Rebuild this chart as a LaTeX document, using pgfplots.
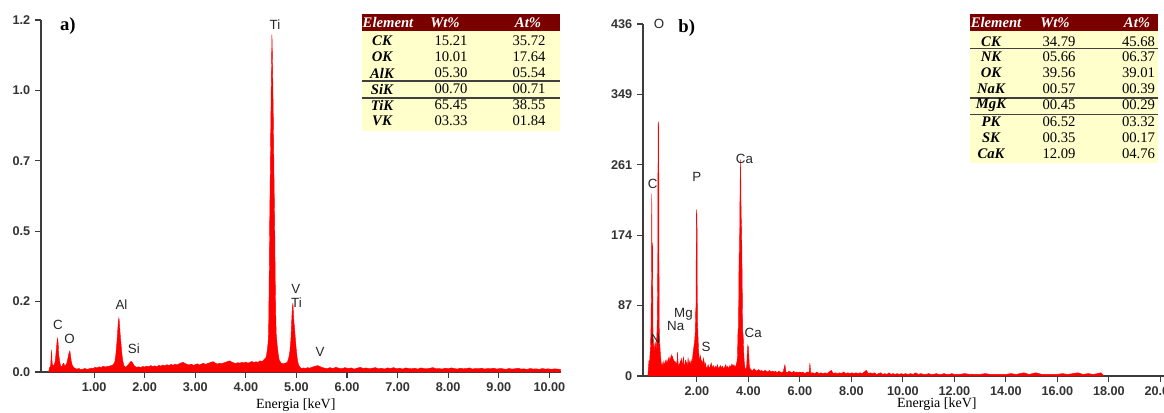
\documentclass[border=0pt]{standalone}
\usepackage{pgfplots}
\usepackage{pgfplotstable}
\pgfplotsset{compat=1.18}
\usepackage{fontspec}
\setmainfont{Liberation Serif}
\newfontfamily\arial{Liberation Sans}
\definecolor{hdr}{HTML}{7A0000}
\definecolor{cell}{HTML}{FFFFCC}
\definecolor{axgray}{HTML}{3C3C3C}

\pgfplotstableread{
x y
0.10 0
0.12 0.015
0.14 0.02
0.16 0.075
0.17 0.03
0.19 0.02
0.21 0.025
0.23 0.035
0.25 0.07
0.26 0.09
0.27 0.108
0.28 0.115
0.29 0.095
0.30 0.06
0.32 0.035
0.34 0.02
0.36 0.018
0.38 0.026
0.40 0.03
0.42 0.02
0.44 0.024
0.46 0.03
0.48 0.045
0.50 0.062
0.52 0.072
0.53 0.06
0.55 0.035
0.57 0.022
0.60 0.015
0.63 0.012
0.66 0.01
0.70 0.012
0.74 0.008
0.78 0.01
0.82 0.012
0.86 0.009
0.90 0.011
0.94 0.013
0.98 0.012
1.02 0.016
1.06 0.014
1.10 0.018
1.14 0.015
1.18 0.02
1.22 0.017
1.26 0.019
1.30 0.02
1.34 0.022
1.38 0.025
1.41 0.035
1.43 0.06
1.45 0.1
1.47 0.15
1.48 0.175
1.49 0.184
1.50 0.17
1.51 0.14
1.53 0.1
1.55 0.06
1.57 0.035
1.59 0.022
1.62 0.016
1.65 0.02
1.68 0.026
1.71 0.033
1.73 0.036
1.75 0.034
1.77 0.028
1.80 0.02
1.84 0.016
1.88 0.018
1.92 0.015
1.96 0.019
2.00 0.017
2.04 0.02
2.08 0.018
2.12 0.022
2.16 0.019
2.20 0.021
2.24 0.018
2.28 0.023
2.32 0.02
2.36 0.024
2.40 0.021
2.44 0.025
2.48 0.022
2.52 0.026
2.56 0.023
2.60 0.027
2.64 0.024
2.68 0.028
2.72 0.031
2.76 0.033
2.80 0.029
2.84 0.026
2.88 0.024
2.92 0.027
2.96 0.023
3.00 0.025
3.04 0.028
3.08 0.024
3.12 0.027
3.16 0.03
3.20 0.026
3.24 0.029
3.28 0.031
3.32 0.034
3.36 0.035
3.40 0.03
3.44 0.027
3.48 0.03
3.52 0.028
3.56 0.031
3.60 0.033
3.64 0.036
3.68 0.038
3.72 0.034
3.76 0.031
3.80 0.029
3.84 0.032
3.88 0.03
3.92 0.033
3.96 0.031
4.00 0.034
4.04 0.03
4.08 0.033
4.12 0.036
4.16 0.032
4.20 0.035
4.24 0.033
4.28 0.038
4.32 0.036
4.36 0.042
4.40 0.05
4.42 0.07
4.44 0.1
4.45 0.14
4.46 0.3
4.47 0.5
4.48 0.64
4.49 0.8
4.50 0.95
4.51 1.08
4.515 1.15
4.52 1.12
4.53 1.02
4.54 0.9
4.55 0.76
4.56 0.62
4.57 0.5
4.58 0.32
4.59 0.2
4.60 0.13
4.62 0.09
4.64 0.06
4.66 0.04
4.70 0.03
4.74 0.028
4.78 0.03
4.82 0.033
4.85 0.05
4.87 0.07
4.89 0.11
4.90 0.15
4.91 0.19
4.92 0.22
4.93 0.235
4.94 0.2
4.95 0.17
4.96 0.155
4.98 0.11
5.00 0.07
5.02 0.04
5.04 0.025
5.07 0.016
5.10 0.012
5.14 0.014
5.18 0.012
5.22 0.015
5.26 0.013
5.30 0.016
5.34 0.018
5.38 0.02
5.42 0.022
5.46 0.019
5.50 0.016
5.54 0.014
5.60 0.011
5.66 0.015
5.72 0.012
5.78 0.016
5.84 0.013
5.90 0.011
5.96 0.015
6.02 0.012
6.08 0.014
6.14 0.010
6.20 0.013
6.26 0.016
6.32 0.012
6.38 0.014
6.44 0.011
6.50 0.013
6.56 0.015
6.62 0.011
6.68 0.013
6.74 0.010
6.80 0.014
6.86 0.012
6.92 0.015
6.98 0.011
7.04 0.013
7.10 0.010
7.16 0.014
7.22 0.012
7.28 0.011
7.34 0.013
7.40 0.010
7.46 0.014
7.52 0.012
7.58 0.011
7.64 0.013
7.70 0.015
7.76 0.011
7.82 0.012
7.88 0.010
7.94 0.013
8.00 0.011
8.06 0.014
8.12 0.012
8.18 0.010
8.24 0.013
8.30 0.011
8.36 0.012
8.42 0.014
8.48 0.010
8.54 0.012
8.60 0.011
8.66 0.013
8.72 0.010
8.78 0.012
8.84 0.011
8.90 0.013
8.96 0.010
9.02 0.012
9.08 0.011
9.14 0.009
9.20 0.012
9.26 0.010
9.32 0.011
9.38 0.013
9.44 0.010
9.50 0.011
9.56 0.009
9.62 0.012
9.68 0.010
9.74 0.011
9.80 0.009
9.86 0.012
9.92 0.010
9.98 0.011
10.04 0.009
10.10 0.011
10.16 0.010
10.22 0.009
}\leftdata

\pgfplotstableread{
x y
0.10 0
0.12 10
0.14 18
0.16 14
0.18 25
0.20 35
0.22 60
0.24 120
0.25 226
0.26 150
0.27 120
0.28 165
0.29 100
0.30 50
0.32 40
0.34 30
0.36 36
0.38 42
0.40 38
0.42 32
0.44 45
0.46 60
0.48 120
0.49 250
0.50 312
0.51 315
0.52 300
0.53 150
0.54 60
0.56 40
0.58 30
0.60 22
0.62 15
0.64 12
0.66 16
0.68 10
0.70 14
0.72 18
0.74 12
0.76 15
0.78 19
0.80 14
0.82 17
0.84 20
0.86 15
0.88 18
0.90 22
0.92 17
0.94 20
0.96 24
0.98 19
1.00 22
1.02 26
1.04 21
1.06 24
1.08 18
1.10 20
1.12 15
1.14 18
1.16 14
1.18 17
1.20 12
1.22 16
1.24 20
1.25 30
1.26 22
1.28 14
1.30 11
1.32 15
1.34 12
1.36 18
1.38 14
1.40 22
1.42 16
1.44 12
1.46 19
1.48 24
1.50 15
1.52 11
1.54 14
1.56 20
1.58 13
1.60 17
1.62 12
1.64 15
1.66 22
1.68 17
1.70 14
1.72 18
1.74 13
1.76 16
1.78 20
1.80 15
1.82 18
1.84 24
1.86 30
1.88 35
1.90 40
1.92 45
1.94 55
1.96 85
1.97 82
1.98 195
1.99 206
2.00 200
2.01 180
2.02 70
2.03 65
2.05 45
2.07 30
2.09 24
2.11 18
2.14 25
2.16 20
2.18 16
2.20 19
2.22 14
2.24 17
2.26 22
2.28 18
2.30 15
2.32 12
2.34 16
2.36 11
2.40 10
2.44 14
2.48 9
2.52 12
2.56 16
2.60 10
2.64 13
2.68 9
2.72 12
2.76 10
2.80 14
2.84 9
2.88 11
2.92 13
2.96 10
3.00 12
3.04 9
3.08 11
3.12 14
3.16 10
3.20 12
3.24 9
3.28 13
3.32 11
3.36 15
3.40 12
3.44 14
3.48 11
3.52 13
3.56 18
3.58 25
3.60 57
3.62 60
3.64 150
3.66 156
3.68 240
3.70 268
3.72 200
3.74 181
3.76 120
3.78 55
3.80 50
3.82 30
3.84 18
3.86 12
3.88 9
3.90 8
3.92 10
3.94 14
3.96 30
3.98 38
4.00 36
4.02 25
4.04 12
4.07 9
4.10 8
4.16 6
4.22 9
4.28 7
4.34 6
4.40 8
4.46 6
4.52 7
4.58 5
4.64 7
4.70 6
4.76 5
4.82 7
4.88 5
4.94 6
5.00 5
5.06 6
5.12 4
5.18 6
5.24 5
5.30 4
5.36 6
5.42 14
5.46 5
5.52 4
5.58 6
5.64 5
5.70 4
5.76 6
5.82 4
5.88 5
5.94 4
6.00 5
6.06 4
6.12 5
6.18 3
6.24 4
6.30 5
6.36 4
6.39 16
6.42 4
6.50 4
6.58 3
6.66 5
6.74 3
6.82 4
6.90 3
6.98 4
7.06 3
7.14 5
7.22 7
7.30 3
7.38 4
7.46 3
7.54 4
7.62 3
7.70 5
7.78 3
7.86 4
7.94 3
8.02 4
8.10 3
8.18 4
8.26 3
8.34 4
8.42 3
8.50 5
8.58 7
8.66 3
8.74 4
8.82 3
8.90 4
8.98 2
9.06 3
9.14 4
9.22 2
9.30 3
9.38 2
9.46 4
9.54 2
9.62 3
9.70 2
9.78 3
9.86 2
9.94 3
10.02 2
10.10 3
10.20 2
10.30 3
10.40 2
10.50 4
10.60 2
10.70 3
10.80 2
10.90 2
11.00 3
11.10 2
11.20 2
11.30 3
11.40 2
11.50 2
11.60 3
11.70 2
11.80 2
11.90 3
12.00 2
12.20 2
12.40 3
12.60 2
12.80 2
13.00 2
13.20 3
13.40 2
13.60 2
13.80 2
14.00 2
14.20 3
14.40 2
14.70 4
14.90 2
15.16 4
15.40 2
15.60 2
15.80 2
16.00 2
16.20 3
16.40 2
16.80 4
17.00 2
17.20 3
17.40 2
17.70 4
17.80 0
}\rightdata

\pgfplotsset{eds/.style={
  scale only axis,
  axis x line*=bottom, axis y line*=left,
  axis line style={axgray, line width=1.1pt},
  tick align=outside,
  major tick length=4.5pt,
  tick style={axgray, line width=0.9pt},
  tick label style={font=\arial\bfseries\fontsize{9.5}{10}\selectfont, text=black!80},
  xlabel style={font=\fontsize{10.5}{12}\selectfont},
  clip=false,
  ymin=0,
}}
\newcommand{\pk}{\arial\fontsize{10}{11}\selectfont}

\begin{document}
\begin{tikzpicture}
% ---------- a) ----------
\begin{axis}[eds, at={(30.75pt,30pt)}, anchor=south west, width=390pt, height=264pt,
  xmin=-0.05, xmax=10.23, ymax=1.2,
  xtick={1,2,3,4,5,6,7,8,9,10},
  xticklabels={1.00,2.00,3.00,4.00,5.00,6.00,7.00,8.00,9.00,10.00},
  ytick={0,0.24,0.48,0.72,0.96,1.2},
  yticklabels={0.0,0.2,0.5,0.7,1.0,1.2},
  xlabel={Energia [keV]},
  xlabel style={at={(axis description cs:0.49,0)}, anchor=center, yshift=-24.75pt}]
\addplot[draw=red, fill=red, line width=0.3pt] table[x=x,y=y] {\leftdata} \closedcycle;
\node[font=\pk, text=black!85] at (axis cs:0.285,0.160) {C};
\node[font=\pk, text=black!85] at (axis cs:0.515,0.1125) {O};
\node[font=\pk, text=black!85] at (axis cs:1.54,0.231) {Al};
\node[font=\pk, text=black!85] at (axis cs:1.785,0.081) {Si};
\node[font=\pk, text=black!85] at (axis cs:4.575,1.185) {Ti};
\node[font=\pk, text=black!85] at (axis cs:4.99,0.283) {V};
\node[font=\pk, text=black!85] at (axis cs:5.00,0.238) {Ti};
\node[font=\pk, text=black!85] at (axis cs:5.465,0.067) {V};
\node[font=\bfseries\fontsize{14}{16}\selectfont] at (axis cs:0.48,1.18) {a)};
\end{axis}
% ---------- b) ----------
\begin{axis}[eds, at={(482.25pt,27pt)}, anchor=south west, width=390.75pt, height=264pt,
  xmin=-0.09, xmax=20.14, ymax=436,
  xtick={2,4,6,8,10,12,14,16,18,20},
  xticklabels={2.00,4.00,6.00,8.00,10.00,12.00,14.00,16.00,18.00,20.00},
  ytick={0,87.2,174.4,261.6,348.8,436},
  yticklabels={0,87,174,261,349,436},
  xlabel={Energia [keV]},
  xlabel style={at={(axis description cs:0.564,0)}, anchor=center, yshift=-21pt}]
\addplot[draw=red, fill=red, line width=0.3pt] table[x=x,y=y] {\rightdata} \closedcycle;
\node[font=\pk, text=black!85] at (axis cs:0.53,436) {O};
\node[font=\pk, text=black!85] at (axis cs:0.287,237.5) {C};
\node[font=\pk, text=black!85] at (axis cs:2.0,247) {P};
\node[font=\pk, text=black!85] at (axis cs:3.85,268.8) {Ca};
\node[font=\pk, text=black!85] at (axis cs:1.48,76.8) {Mg};
\node[font=\pk, text=black!85] at (axis cs:1.18,62) {Na};
\node[font=\pk, text=black!85] at (axis cs:0.39,45.8) {N};
\node[font=\pk, text=black!85] at (axis cs:2.36,36.3) {S};
\node[font=\pk, text=black!85] at (axis cs:4.19,53.6) {Ca};
\node[font=\bfseries\fontsize{14}{16}\selectfont] at (axis cs:1.61,430.7) {b)};
\end{axis}
% ---------- tables (pixel coordinates) ----------
\begin{scope}[x=0.75pt, y=-0.75pt, yshift=309pt,
  hd/.style={font=\bfseries\itshape\fontsize{11}{12}\selectfont, text=white},
  el/.style={font=\bfseries\itshape\fontsize{11}{12}\selectfont},
  nm/.style={font=\fontsize{11}{12}\selectfont}]
% table a
\fill[cell] (362,31) rectangle (560,131);
\fill[hdr] (362,14) rectangle (560,31);
\draw[black!75, line width=1.1pt] (362,81) -- (560,81);
\draw[black!75, line width=1.1pt] (362,98) -- (560,98);
\node[hd] at (388,22.5) {Element};
\node[hd] at (445,22.5) {Wt\%};
\node[hd] at (528,22.5) {At\%};
\foreach \y/\e/\w/\a in {41/CK/15.21/35.72, 57/OK/10.01/17.64, 73/AlK/05.30/05.54,
   89/SiK/00.70/00.71, 105/TiK/65.45/38.55, 121/VK/03.33/01.84}{
  \node[el] at (382,\y) {\e};
  \node[nm] at (451,\y) {\w};
  \node[nm] at (529,\y) {\a};
}
% table b
\fill[cell] (970,31) rectangle (1158,163);
\fill[hdr] (970,14) rectangle (1158,31);
\draw[black!75, line width=1.1pt] (970,48.5) -- (1158,48.5);
\draw[black!75, line width=1.1pt] (970,98) -- (1158,98);
\draw[black!75, line width=1.1pt] (970,114.5) -- (1158,114.5);
\node[hd] at (996,22.5) {Element};
\node[hd] at (1055,22.5) {Wt\%};
\node[hd] at (1137,22.5) {At\%};
\foreach \y/\e/\w/\a in {41.5/CK/34.79/45.68, 57/NK/05.66/06.37, 73/OK/39.56/39.01,
   89/NaK/00.57/00.39, 105/MgK/00.45/00.29, 122/PK/06.52/03.32, 138/SK/00.35/00.17,
   153.5/CaK/12.09/04.76}{
  \node[el] at (991,\y) {\e};
  \node[nm] at (1059,\y) {\w};
  \node[nm] at (1138.5,\y) {\a};
}
\end{scope}
\pgfresetboundingbox
\path[use as bounding box] (0pt,0pt) rectangle (873pt,309pt);
\end{tikzpicture}
\end{document}
